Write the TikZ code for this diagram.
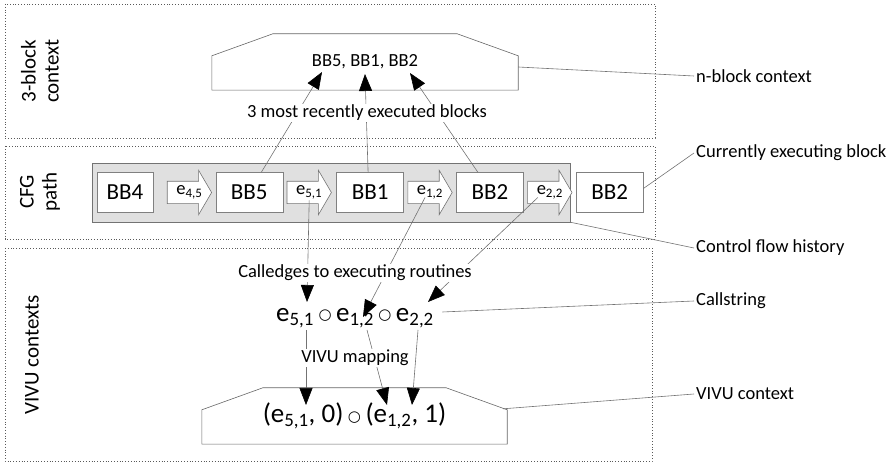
\documentclass[tikz,border=0pt]{standalone}
\usepackage{fontspec}
\setmainfont{Carlito}
\newfontfamily\symfont{DejaVu Sans}
\usetikzlibrary{arrows.meta,positioning,calc,backgrounds}

\newcommand{\ring}{\,\raisebox{1.5pt}{\symfont\fontsize{15}{15}\selectfont ○}\,}

\begin{document}
\begin{tikzpicture}[
  x=1pt, y=-1pt,
  node distance=4pt,
  band/.style={draw=black!65, dotted, thick},
  block/.style={
    rectangle, draw=black!50, fill=white, inner sep=0pt,
    minimum width=67pt, minimum height=40pt,
    font=\fontsize{23}{25}\selectfont},
  edgearrow/.style={
    rectangle, inner sep=0pt, minimum width=44pt, minimum height=22pt,
    font=\fontsize{18.5}{20}\selectfont},
  edgeline/.style={draw=black!55, fill=white, line width=0.6pt},
  hist/.style={
    rectangle, draw=black!55, fill=black!12,
    minimum width=478pt, minimum height=59pt},
  ctx/.style={rectangle, minimum width=306pt, minimum height=56pt, inner sep=0pt},
  ctxline/.style={draw=black!60, line width=0.6pt},
  side/.style={rotate=90, align=center, font=\fontsize{21}{23}\selectfont},
  note/.style={anchor=west, inner sep=2pt, font=\fontsize{18.5}{20}\selectfont},
  tag/.style={fill=white, inner sep=1pt, font=\fontsize{18.5}{20}\selectfont},
  lead/.style={draw=black!55, line width=0.6pt},
  arr/.style={draw=black!55, line width=0.6pt,
    -{Triangle[length=17pt, width=13pt, black]}},
]
  \useasboundingbox (0,0) rectangle (895,462);

  % --- dotted bands -------------------------------------------------------
  \draw[band] (5,4)   rectangle (655,138);
  \draw[band] (5,146) rectangle (655,239);
  \draw[band] (5,248) rectangle (652,461);

  \node[side] (lblctx)  at (40,71)  {3-block\\context};
  \node[side] (lblcfg)  at (40,192) {CFG\\path};
  \node[side] (lblvivu) at (32,355) {VIVU contexts};

  % --- n-block context ----------------------------------------------------
  \node[ctx] (nctx) at (365,62)
      {\fontsize{18.5}{20}\selectfont BB5, BB1, BB2};
  \draw[ctxline] (nctx.south west) -- ($(nctx.north west)+(0,22)$)
      -- ($(nctx.north west)+(61,0)$) -- ($(nctx.north east)+(-61,0)$)
      -- ($(nctx.north east)+(0,22)$) -- (nctx.south east) -- cycle;

  % --- CFG path -----------------------------------------------------------
  \begin{pgfonlayer}{background}
    \node[hist] (hist) at (331,192.5) {};
  \end{pgfonlayer}
  \node[block, minimum width=56pt, right=5pt of hist.west] (bb4) {BB4};
  \node[edgearrow, right=14pt of bb4] (e45) {e\textsubscript{4,5}};
  \node[block, right=of e45]          (bb5) {BB5};
  \node[edgearrow, right=of bb5]      (e51) {e\textsubscript{5,1}};
  \node[block, right=5pt of e51]      (bb1) {BB1};
  \node[edgearrow, right=of bb1]      (e12) {e\textsubscript{1,2}};
  \node[block, right=of e12]          (bb2) {BB2};
  \node[edgearrow, right=of bb2]      (e22) {e\textsubscript{2,2}};
  \node[block, right=of e22]          (cur) {BB2};

  % block arrows behind the edge labels
  \begin{pgfonlayer}{background}
    \foreach \e in {e45,e51,e12,e22}
      \draw[edgeline] (\e.north west) -- ($(\e.north east)+(-13,0)$)
        -- ($(\e.north east)+(-13,-11)$) -- (\e.east)
        -- ($(\e.south east)+(-13,11)$) -- ($(\e.south east)+(-13,0)$)
        -- (\e.south west) -- cycle;
  \end{pgfonlayer}

  % --- VIVU contexts ------------------------------------------------------
  \node[font=\fontsize{27}{29}\selectfont] (cstr) at (355,318)
      {e\textsubscript{5,1}\ring e\textsubscript{1,2}\ring e\textsubscript{2,2}};
  \node[ctx, minimum width=305pt] (vctx) at (354.5,416)
      {\fontsize{27}{29}\selectfont (e\textsubscript{5,1}, 0)\ring(e\textsubscript{1,2}, 1)};
  \draw[ctxline] (vctx.south west) -- ($(vctx.north west)+(0,22)$)
      -- ($(vctx.north west)+(61,0)$) -- ($(vctx.north east)+(-61,0)$)
      -- ($(vctx.north east)+(0,22)$) -- (vctx.south east) -- cycle;

  % --- side notes ---------------------------------------------------------
  \node[note] (nblk)    at (694,76)  {n-block context};
  \node[note] (curblk)  at (694,153) {Currently executing block};
  \node[note] (cflow)   at (694,248) {Control flow history};
  \node[note] (callstr) at (694,301) {Callstring};
  \node[note] (vivuctx) at (694,394) {VIVU context};

  \draw[lead] ($(nctx.east)+(0,5)$)   -- (nblk.west);
  \draw[lead] ($(cur.east)+(0,-4)$)   -- (curblk.west);
  \draw[lead] (hist.south east)       -- (cflow.west);
  \draw[lead] ($(cstr.east)+(5,-6)$)  -- (callstr.west);
  \draw[lead] ($(vctx.north east)+(-4,21)$) -- (vivuctx.west);

  % --- arrow tips ---------------------------------------------------------
  \coordinate (t5) at (322,72);
  \coordinate (t1) at (365,74);
  \coordinate (t2) at (410,73);
  \coordinate (c51) at (307,302);
  \coordinate (c12) at (363,317);
  \coordinate (c22) at (428,302);
  \coordinate (v51) at (306,405);
  \coordinate (v12) at (387,405);
  \coordinate (v22) at (412,405);

  % three most recent blocks
  \draw[arr] ($(bb5.north)+(12,0)$)  -- (t5);
  \draw[arr] ($(bb1.north)+(-2,0)$)  -- (t1);
  \draw[arr] ($(bb2.north)+(-12,0)$) -- (t2);

  % call edges
  \draw[arr] ($(e51.center)+(0,8)$)   -- (c51);
  \draw[arr] ($(e12.center)+(-5,5)$)  -- (c12);
  \draw[arr] ($(e22.center)+(-12,5)$) -- (c22);

  % mapping
  \draw[arr] (306,330) -- (v51);
  \draw[arr] (367,330) -- (v12);
  \draw[arr] (418,330) -- (v22);

  % --- labels on top of the connectors ------------------------------------
  \node[tag] (recent)    at (367,113) {3 most recently executed blocks};
  \node[tag] (calledges) at (355,273) {Calledges to executing routines};
  \node[tag] (mapping)   at (355,358) {VIVU mapping};
\end{tikzpicture}
\end{document}
